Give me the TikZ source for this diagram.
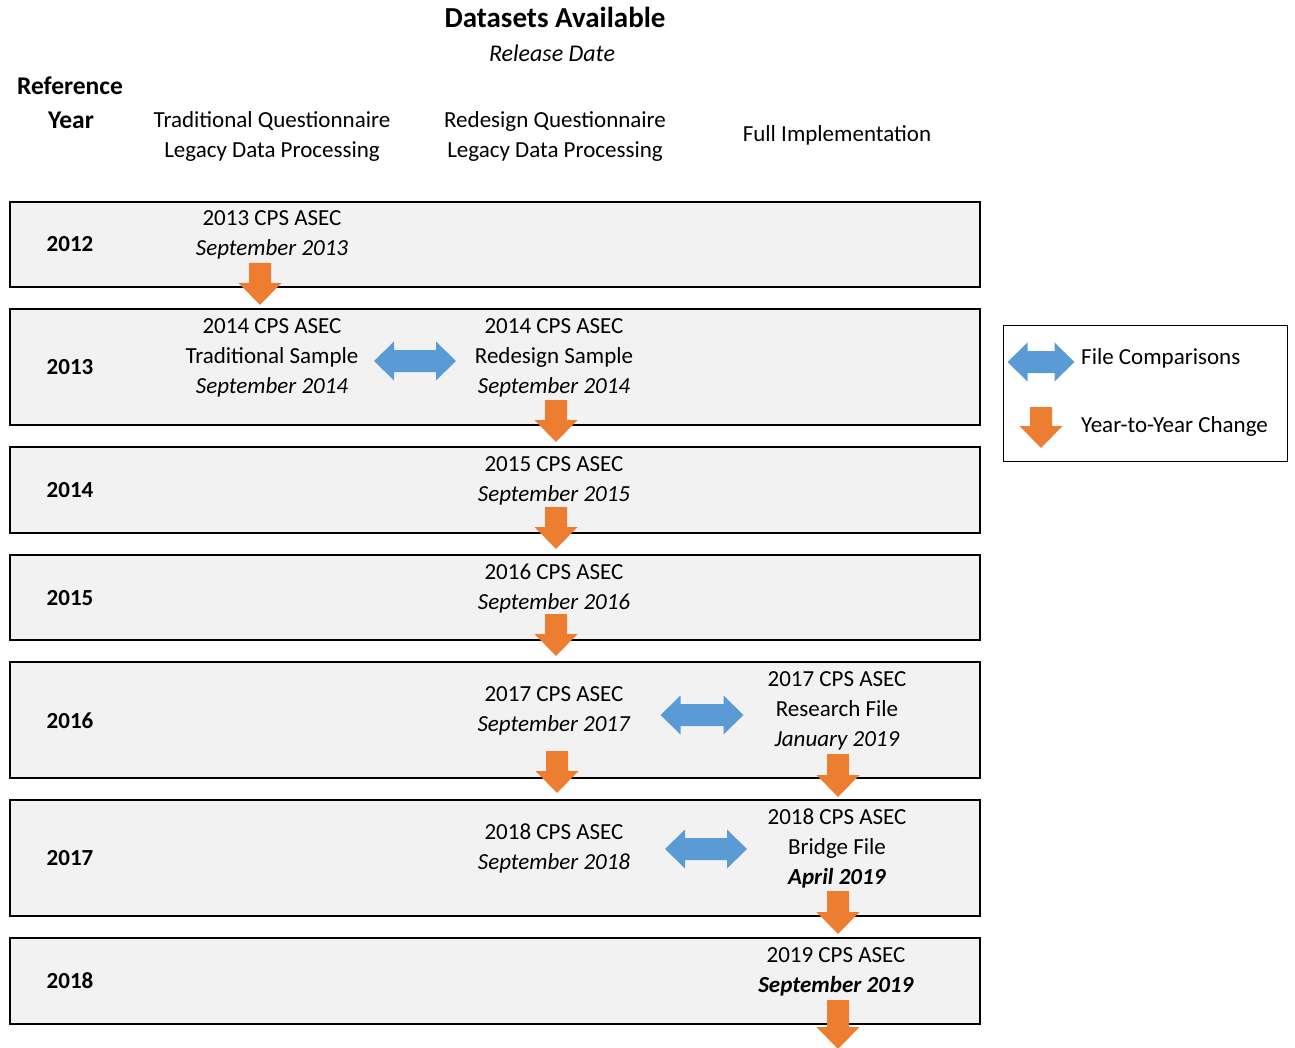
\documentclass[tikz,border=0pt]{standalone}
\usepackage{fontspec}
\setmainfont{Carlito}
\definecolor{boxgray}{HTML}{F2F2F2}
\definecolor{yoyorange}{HTML}{ED7D31}
\definecolor{cmpblue}{HTML}{5B9BD5}
\begin{document}
\begin{tikzpicture}[x=1pt,y=-1pt,
  txt/.style={align=center,inner sep=0pt,yshift=-2.5pt,font=\fontsize{23}{30}\selectfont},
  lgd/.style={anchor=west,inner sep=0pt,yshift=-2.5pt,font=\fontsize{23}{30}\selectfont},
  yr/.style={inner sep=0pt,yshift=-2.5pt,font=\fontsize{23}{30}\selectfont\bfseries},
  hdr/.style={inner sep=0pt,yshift=-2.5pt,font=\fontsize{25.5}{34}\selectfont\bfseries},
  rowbox/.style={draw=black,line width=2pt,fill=boxgray,minimum width=970pt,inner sep=0pt,anchor=north west},
  yoy/.style={fill=yoyorange},
  cmp/.style={fill=cmpblue},
  pics/ydown/.style={code={\fill[yoy] (-11,0) -- (11,0) -- (11,#1) -- (21.5,#1) -- (0,#1+22) -- (-21.5,#1) -- (-11,#1) -- cycle;}},
  pics/cmparrow/.style={code={\fill[cmp] (-#1,0) -- (-#1+20,-19.5) -- (-#1+20,-11) -- (#1-20,-11) -- (#1-20,-19.5) -- (#1,0) -- (#1-20,19.5) -- (#1-20,11) -- (-#1+20,11) -- (-#1+20,19.5) -- cycle;}},
]
\useasboundingbox (0,0) rectangle (1295,1048);

% header
\node[inner sep=0pt,yshift=-2.5pt,font=\fontsize{29}{36}\selectfont\bfseries] (title) at (555,18) {\strut Datasets Available};
\node[inner sep=0pt,yshift=-2.5pt,font=\fontsize{24}{30}\selectfont\itshape] (rel) at (552,53) {\strut Release Date};
\node[hdr] (refh) at (70,85) {\strut Reference};
\node[hdr] (yearh) at (71,119) {\strut Year};
\node[txt] (colA) at (272,134) {\strut Traditional Questionnaire\\\strut Legacy Data Processing};
\node[txt] (colB) at (555,134) {\strut Redesign Questionnaire\\\strut Legacy Data Processing};
\node[txt] (colC) at (837,133) {\strut Full Implementation};

% rows
\node[rowbox,minimum height=85pt] (row2012) at (9,201) {};
\node[rowbox,minimum height=116pt] (row2013) at (9,308) {};
\node[rowbox,minimum height=86pt] (row2014) at (9,446) {};
\node[rowbox,minimum height=85pt] (row2015) at (9,554) {};
\node[rowbox,minimum height=116pt] (row2016) at (9,661) {};
\node[rowbox,minimum height=116pt] (row2017) at (9,799) {};
\node[rowbox,minimum height=86pt] (row2018) at (9,937) {};

% years
\node[yr] (y2012) at (70,243) {\strut 2012};
\node[yr] (y2013) at (70,366) {\strut 2013};
\node[yr] (y2014) at (70,489) {\strut 2014};
\node[yr] (y2015) at (70,597) {\strut 2015};
\node[yr] (y2016) at (70,720) {\strut 2016};
\node[yr] (y2017) at (70,857) {\strut 2017};
\node[yr] (y2018) at (70,980) {\strut 2018};

% datasets
\node[txt] (d2013) at (272,232) {\strut 2013 CPS ASEC\\\strut\textit{September 2013}};
\node[txt] (d2014t) at (272,355) {\strut 2014 CPS ASEC\\\strut Traditional Sample\\\strut\textit{September 2014}};
\node[txt] (d2014r) at (554,355) {\strut 2014 CPS ASEC\\\strut Redesign Sample\\\strut\textit{September 2014}};
\node[txt] (d2015) at (554,478) {\strut 2015 CPS ASEC\\\strut\textit{September 2015}};
\node[txt] (d2016) at (554,586) {\strut 2016 CPS ASEC\\\strut\textit{September 2016}};
\node[txt] (d2017) at (554,708) {\strut 2017 CPS ASEC\\\strut\textit{September 2017}};
\node[txt] (d2017r) at (837,708) {\strut 2017 CPS ASEC\\\strut Research File\\\strut\textit{January 2019}};
\node[txt] (d2018) at (554,846) {\strut 2018 CPS ASEC\\\strut\textit{September 2018}};
\node[txt] (d2018b) at (837,846) {\strut 2018 CPS ASEC\\\strut Bridge File\\\strut\textbf{\textit{April 2019}}};
\node[txt] (d2019) at (836,969) {\strut 2019 CPS ASEC\\\strut\textbf{\textit{September 2019}}};

% year-to-year arrows
\pic at (260,263) {ydown=20};
\pic at (556,400) {ydown=20};
\pic at (556,507) {ydown=20};
\pic at (556,614) {ydown=20};
\pic at (557,751) {ydown=20};
\pic at (838,754) {ydown=21};
\pic at (838,891) {ydown=21};
\pic at (838,1000) {ydown=27};

% comparison arrows
\pic at (415,361) {cmparrow=41};
\pic at (702,715) {cmparrow=41.5};
\pic at (706,849) {cmparrow=41};

% legend
\node[draw=black,line width=1pt,minimum width=284pt,minimum height=136pt,inner sep=0pt,anchor=north west] (legend) at (1003,325) {};
\pic at (1041,362) {cmparrow=33.5};
\pic at (1041,407) {ydown=19};
\node[lgd] (lgdA) at (1081,356) {\strut File Comparisons};
\node[lgd] (lgdB) at (1081,424) {\strut Year-to-Year Change};
\end{tikzpicture}
\end{document}
